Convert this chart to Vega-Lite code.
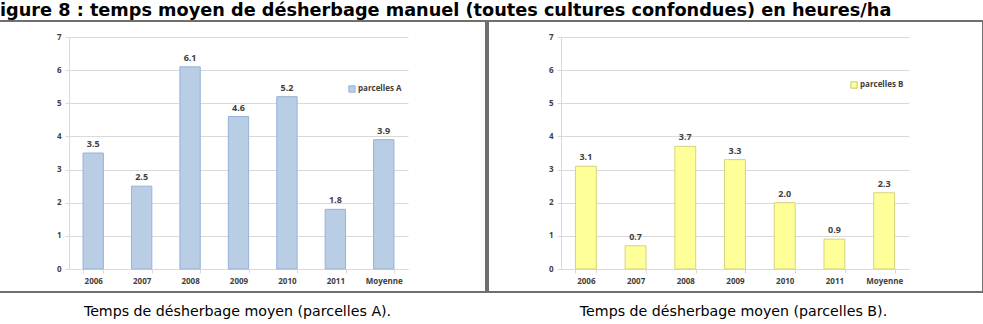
{
  "$schema": "https://vega.github.io/schema/vega-lite/v6.json",
  "padding": {"left": -12, "top": 2, "right": 0, "bottom": 0},
  "background": "white",
  "title": {"text": "igure 8 : temps moyen de désherbage manuel (toutes cultures confondues) en heures/ha", "anchor": "start", "frame": "bounds", "dx": 12, "font": "DejaVu Sans", "fontSize": 17.7, "fontWeight": "bold", "color": "black", "offset": 0},
  "datasets": {
    "a": [
      {"annee": "2006", "serie": "parcelles A", "valeur": 3.5},
      {"annee": "2007", "serie": "parcelles A", "valeur": 2.5},
      {"annee": "2008", "serie": "parcelles A", "valeur": 6.1},
      {"annee": "2009", "serie": "parcelles A", "valeur": 4.6},
      {"annee": "2010", "serie": "parcelles A", "valeur": 5.2},
      {"annee": "2011", "serie": "parcelles A", "valeur": 1.8},
      {"annee": "Moyenne", "serie": "parcelles A", "valeur": 3.9}
    ],
    "b": [
      {"annee": "2006", "serie": "parcelles B", "valeur": 3.1},
      {"annee": "2007", "serie": "parcelles B", "valeur": 0.7},
      {"annee": "2008", "serie": "parcelles B", "valeur": 3.7},
      {"annee": "2009", "serie": "parcelles B", "valeur": 3.3},
      {"annee": "2010", "serie": "parcelles B", "valeur": 2.0},
      {"annee": "2011", "serie": "parcelles B", "valeur": 0.9},
      {"annee": "Moyenne", "serie": "parcelles B", "valeur": 2.3}
    ],
    "capA": [{"legende": "Temps de désherbage moyen (parcelles A)."}],
    "capB": [{"legende": "Temps de désherbage moyen (parcelles B)."}]
  },
  "spacing": 0,
  "config": {
    "concat": {"spacing": 0},
    "view": {"stroke": "#6f6f6f", "strokeWidth": 2},
    "axis": {"title": null, "labelFont": "Open Sans", "labelFontWeight": "bold", "labelFontSize": 8, "labelColor": "#404040", "domainColor": "#d9d9d9", "tickColor": "#d9d9d9", "gridColor": "#d9d9d9", "tickSize": 4}
  },
  "vconcat": [
    {
      "spacing": 0,
      "resolve": {"scale": {"x": "independent", "y": "independent", "color": "independent"}, "legend": {"color": "independent"}},
      "hconcat": [
        {
          "width": 497, "height": 271,
          "data": {"name": "a"},
          "encoding": {
            "x": {"field": "annee", "type": "nominal", "sort": null, "scale": {"range": [80, 419], "paddingInner": 0.58, "paddingOuter": 0.29}, "axis": {"labelAngle": 0, "offset": -23, "tickBand": "extent", "labelPadding": 4, "grid": false}},
            "y": {"field": "valeur", "type": "quantitative", "scale": {"domain": [0, 7], "range": [248, 16], "nice": false}, "axis": {"offset": -80, "values": [0, 1, 2, 3, 4, 5, 6, 7], "labelPadding": 4}}
          },
          "layer": [
            {"mark": {"type": "bar", "stroke": "#95b3d7", "strokeWidth": 1},
             "encoding": {"color": {"field": "serie", "type": "nominal", "scale": {"range": ["#b9cde5"]}, "legend": {"orient": "none", "legendX": 359, "legendY": 64, "title": null, "symbolType": "square", "symbolSize": 40, "symbolStrokeColor": "#95b3d7", "symbolStrokeWidth": 1, "labelFont": "Open Sans", "labelFontWeight": "bold", "labelFontSize": 8, "labelColor": "#404040", "labelOffset": 2, "padding": 0}}}},
            {"mark": {"type": "text", "baseline": "bottom", "dy": -4, "font": "Open Sans", "fontWeight": "bold", "fontSize": 9, "color": "#404040"},
             "encoding": {"text": {"field": "valeur", "type": "quantitative", "format": ".1f"}}}
          ]
        },
        {
          "width": 495, "height": 271,
          "data": {"name": "b"},
          "encoding": {
            "x": {"field": "annee", "type": "nominal", "sort": null, "scale": {"range": [73, 421], "paddingInner": 0.58, "paddingOuter": 0.29}, "axis": {"labelAngle": 0, "offset": -23, "tickBand": "extent", "labelPadding": 4, "grid": false}},
            "y": {"field": "valeur", "type": "quantitative", "scale": {"domain": [0, 7], "range": [248, 16], "nice": false}, "axis": {"offset": -73, "values": [0, 1, 2, 3, 4, 5, 6, 7], "labelPadding": 4}}
          },
          "layer": [
            {"mark": {"type": "bar", "stroke": "#d4d47a", "strokeWidth": 1},
             "encoding": {"color": {"field": "serie", "type": "nominal", "scale": {"range": ["#ffff99"]}, "legend": {"orient": "none", "legendX": 362, "legendY": 60, "title": null, "symbolType": "square", "symbolSize": 40, "symbolStrokeColor": "#c8c870", "symbolStrokeWidth": 1, "labelFont": "Open Sans", "labelFontWeight": "bold", "labelFontSize": 8, "labelColor": "#404040", "labelOffset": 2, "padding": 0}}}},
            {"mark": {"type": "text", "baseline": "bottom", "dy": -4, "font": "Open Sans", "fontWeight": "bold", "fontSize": 9, "color": "#404040"},
             "encoding": {"text": {"field": "valeur", "type": "quantitative", "format": ".1f"}}}
          ]
        }
      ]
    },
    {
      "spacing": 0,
      "hconcat": [
        {"width": 497, "height": 29, "data": {"name": "capA"},
         "mark": {"type": "text", "font": "DejaVu Sans", "fontSize": 14.2, "baseline": "middle", "dy": 4, "color": "black"},
         "encoding": {"text": {"field": "legende", "type": "nominal"}}},
        {"width": 495, "height": 29, "data": {"name": "capB"},
         "mark": {"type": "text", "font": "DejaVu Sans", "fontSize": 14.2, "baseline": "middle", "dy": 4, "color": "black"},
         "encoding": {"text": {"field": "legende", "type": "nominal"}}}
      ]
    }
  ]
}
